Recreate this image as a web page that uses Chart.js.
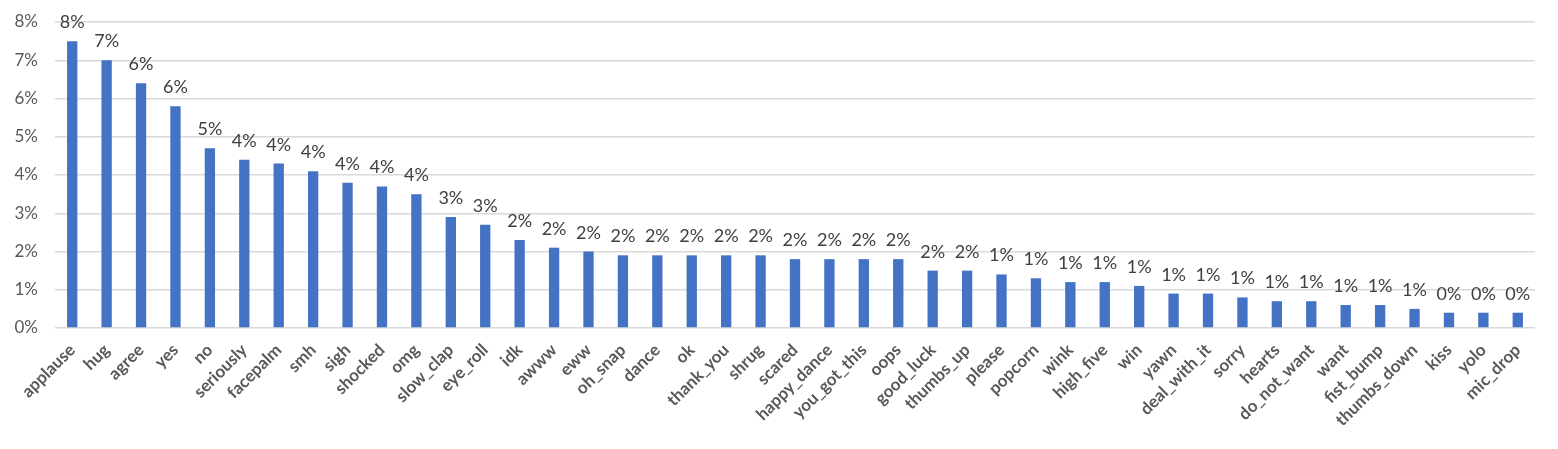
<!DOCTYPE html>
<html>
<head>
<meta charset="utf-8">
<script src="https://cdn.jsdelivr.net/npm/chart.js@4/dist/chart.umd.min.js"></script>
<style>
html,body{margin:0;padding:0;background:#fff;}
#wrap{width:1558px;height:449px;position:relative;}
</style>
</head>
<body>
<div id="wrap"><canvas id="c"></canvas></div>
<script>
const categories = ["applause","hug","agree","yes","no","seriously","facepalm","smh","sigh","shocked","omg","slow_clap","eye_roll","idk","awww","eww","oh_snap","dance","ok","thank_you","shrug","scared","happy_dance","you_got_this","oops","good_luck","thumbs_up","please","popcorn","wink","high_five","win","yawn","deal_with_it","sorry","hearts","do_not_want","want","fist_bump","thumbs_down","kiss","yolo","mic_drop"];
const shares = [7.5,7.0,6.4,5.8,4.7,4.4,4.3,4.1,3.8,3.7,3.5,2.9,2.7,2.3,2.1,2.0,1.9,1.9,1.9,1.9,1.9,1.8,1.8,1.8,1.8,1.5,1.5,1.4,1.3,1.2,1.2,1.1,0.9,0.9,0.8,0.7,0.7,0.6,0.6,0.5,0.4,0.4,0.4];
const yTicks = [0,1,2,3,4,5,6,7,8];

const FONT = "Lato, 'Open Sans', sans-serif";

const dataLabels = {
  id: 'dataLabels',
  afterDatasetsDraw(chart) {
    const ctx = chart.ctx;
    const meta = chart.getDatasetMeta(0);
    ctx.save();
    ctx.font = "18px " + FONT;
    ctx.fillStyle = "#404040";
    ctx.textAlign = "center";
    ctx.textBaseline = "alphabetic";
    meta.data.forEach((bar, i) => {
      ctx.fillText(Math.round(shares[i]) + "%", bar.x, bar.y - 13);
    });
    ctx.restore();
  }
};

new Chart(document.getElementById('c'), {
  type: 'bar',
  data: {
    labels: categories,
    datasets: [{
      data: shares,
      backgroundColor: '#4472C4',
      categoryPercentage: 1.0,
      barPercentage: 0.3
    }]
  },
  options: {
    responsive: true,
    maintainAspectRatio: false,
    animation: false,
    devicePixelRatio: 1,
    layout: { padding: { top: 22, right: 23, left: 0, bottom: 0 } },
    plugins: { legend: { display: false }, tooltip: { enabled: false } },
    scales: {
      x: {
        grid: { display: false, drawTicks: false },
        border: { display: false },
        ticks: {
          autoSkip: false,
          minRotation: 45,
          maxRotation: 45,
          color: '#595959',
          font: { family: FONT, size: 17, weight: 'bold' },
          padding: 12
        },
        afterFit(scale) { scale.height = 121; scale.paddingLeft = 0; scale.paddingRight = 0; }
      },
      y: {
        min: 0,
        max: 8,
        afterBuildTicks(scale) { scale.ticks = yTicks.map(v => ({ value: v })); },
        grid: { color: '#d9d9d9', lineWidth: 1.5, drawTicks: false },
        border: { display: false },
        ticks: {
          color: '#595959',
          font: { family: FONT, size: 17 },
          padding: 17,
          callback: v => v + '%'
        },
        afterFit(scale) { scale.width = 55; scale.paddingTop = 0; scale.paddingBottom = 0; }
      }
    }
  },
  plugins: [dataLabels]
});
</script>
</body>
</html>
